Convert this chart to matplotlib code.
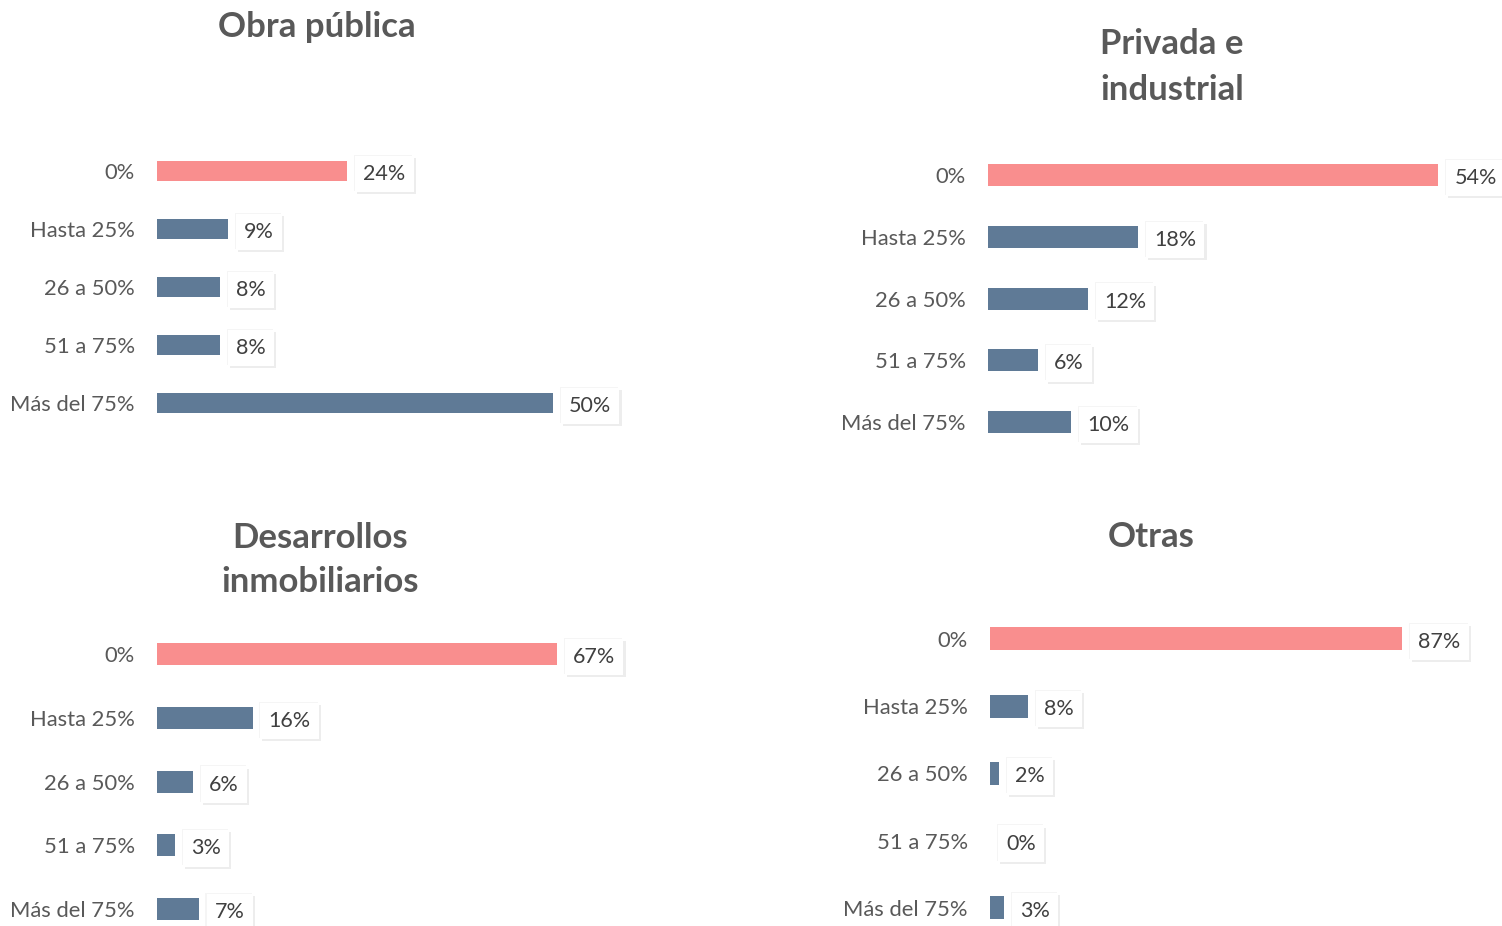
import matplotlib
matplotlib.use("Agg")
import matplotlib.pyplot as plt
import matplotlib.patheffects as pe

plt.rcParams['font.family'] = ['Lato', 'DejaVu Sans']

categories = ["0%", "Hasta 25%", "26 a 50%", "51 a 75%", "Más del 75%"]
obra_publica = [24, 9, 8, 8, 50]
privada_industrial = [54, 18, 12, 6, 10]
desarrollos = [67, 16, 6, 3, 7]
otras = [87, 8, 2, 0, 3]
titles = ["Obra pública", "Privada e\nindustrial", "Desarrollos\ninmobiliarios", "Otras"]

PINK = "#F98E8E"
BLUE = "#5F7A96"
TXT = "#595959"

W, H = 1502, 926
fig = plt.figure(figsize=(W / 100, H / 100), dpi=100)

# panel geometry in pixels: (bar start x, px per unit, first centre y, spacing, bar height px, title x, title y)
panels = [
    (obra_publica, 157, 7.92, 171, 58, 20, 317, 27),
    (privada_industrial, 988, 8.34, 175, 61.8, 22, 1172, 67),
    (desarrollos, 157, 5.97, 654, 63.8, 22, 320, 560),
    (otras, 990, 4.74, 639, 67.2, 23, 1151, 537),
]

for (vals, x0, ppu, yc0, sp, bh, tx, ty), title in zip(panels, titles):
    wpx = 600
    top = yc0 - sp / 2
    bottom = yc0 + 4 * sp + sp / 2
    ax = fig.add_axes([x0 / W, 1 - bottom / H, wpx / W, (bottom - top) / H])
    ax.set_xlim(0, wpx / ppu)
    ax.set_ylim(4.5, -0.5)
    colors = [PINK] + [BLUE] * 4
    ax.barh(range(len(vals)), vals, height=bh / sp, color=colors)
    ax.set_yticks(range(len(categories)))
    ax.set_yticklabels(categories, fontsize=15.8, color=TXT)
    ax.tick_params(axis='y', length=0, pad=16)
    ax.set_xticks([])
    for s in ax.spines.values():
        s.set_visible(False)
    for i, v in enumerate(vals):
        t = ax.annotate(f"{v}%", xy=(v, i), xytext=(16, -3), textcoords='offset pixels',
                        ha='left', va='center', fontsize=15.5, color="#404040",
                        bbox=dict(boxstyle='square,pad=0.38', fc='white', ec='none'),
                        annotation_clip=False)
        t.get_bbox_patch().set_path_effects([
            pe.SimplePatchShadow(offset=(1.5, -1.5), shadow_rgbFace='#000000', alpha=0.07),
            pe.SimplePatchShadow(offset=(-0.8, 0.8), shadow_rgbFace='#000000', alpha=0.04),
            pe.Normal()])
    fig.text(tx / W, 1 - ty / H, title, ha='center', va='center', fontsize=25,
             fontweight='bold', color=TXT, linespacing=1.5)

fig.savefig("out.png", dpi=100)
